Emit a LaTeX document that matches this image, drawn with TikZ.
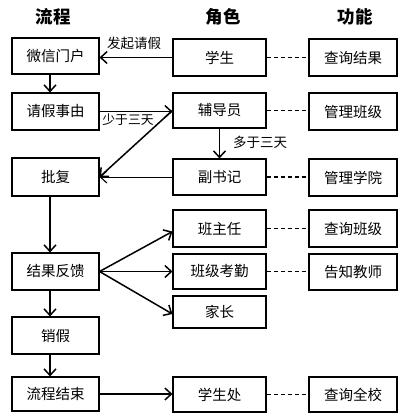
\documentclass[tikz,border=0pt]{standalone}
\usepackage{fontspec}
\newfontfamily\cjk{Noto Sans CJK SC}
\usetikzlibrary{arrows.meta}
\begin{document}
\begin{tikzpicture}[x=1pt,y=-1pt,
  box/.style={draw,line width=1.1pt,inner sep=0pt,font=\cjk\fontsize{14.5}{16}\selectfont},
  lbox/.style={box,minimum width=87pt},
  mbox/.style={box,minimum width=93pt},
  rbox/.style={box,minimum width=88pt},
  hdr/.style={font=\cjk\bfseries\fontsize{17.5}{19}\selectfont},
  lbl/.style={font=\cjk\fontsize{13.5}{15}\selectfont,inner sep=0pt},
  arr/.style={line width=1.5pt,-{Straight Barb[length=6.5pt,width=12pt,line width=1.5pt]}},
  dsh/.style={line width=1.8pt,dash pattern=on 4.5pt off 2.5pt}]
\useasboundingbox (0,0) rectangle (409,420);
% headers
\node[hdr] (h1) at (53,17) {流程};
\node[hdr] (h2) at (223,17) {角色};
\node[hdr] (h3) at (355,17) {功能};
% left column
\node[lbox,minimum height=36pt] (wx) at (55.5,56) {微信门户};
\node[lbox,minimum height=37pt] (qj) at (55.5,111.5) {请假事由};
\node[lbox,minimum height=38pt] (pf) at (55.5,177) {批复};
\node[lbox,minimum height=37pt] (jg) at (55.5,271.5) {结果反馈};
\node[lbox,minimum height=37pt] (xj) at (55.5,335.5) {销假};
\node[lbox,minimum height=34pt] (js) at (55.5,394) {流程结束};
% middle column
\node[mbox,minimum height=37pt] (xs) at (219.5,57.5) {学生};
\node[mbox,minimum height=35pt] (fd) at (219.5,110.5) {辅导员};
\node[mbox,minimum height=36pt] (fs) at (219.5,177) {副书记};
\node[mbox,minimum height=37pt] (bz) at (219.5,228.5) {班主任};
\node[mbox,minimum height=35pt] (kq) at (219.5,271.5) {班级考勤};
\node[mbox,minimum height=32pt] (jz) at (219.5,312) {家长};
\node[mbox,minimum height=35pt] (xc) at (219.5,394.5) {学生处};
% right column
\node[rbox,minimum height=37pt] (r1) at (353,57.5) {查询结果};
\node[rbox,minimum height=37pt] (r2) at (353,111.5) {管理班级};
\node[rbox,minimum height=37pt] (r3) at (353,177.5) {管理学院};
\node[rbox,minimum height=37pt] (r4) at (353,228.5) {查询班级};
\node[rbox,minimum height=36pt] (r5) at (353,272) {告知教师};
\node[rbox,minimum height=35pt] (r6) at (353,394.5) {查询全校};
% dashed links
\draw[dsh] (xs.east) -- (xs.east -| r1.west);
\draw[dsh] (fd.east) -- (fd.east -| r2.west);
\draw[dsh] (fs.east) -- (fs.east -| r3.west);
\draw[dsh] (bz.east) -- (bz.east -| r4.west);
\draw[dsh] (kq.east) -- (kq.east -| r5.west);
\draw[dsh] (xc.east) -- (xc.east -| r6.west);
% flow arrows
\draw[arr] (xs.west) -- (xs.west -| wx.east);
\node[lbl] (l1) at (134,43) {发起请假};
\draw[arr] ([xshift=-5.5pt]wx.south) -- ([xshift=-5.5pt]qj.north);
\draw[arr] (qj.east) -- (qj.east -| fd.west);
\node[lbl,font=\cjk\fontsize{12.8}{14}\selectfont] (l2) at (128,120) {少于三天};
\draw[arr] (fd.west) -- (pf.east);
\draw[arr] (fd.south) -- (fs.north);
\node[lbl] (l3) at (260,142) {多于三天};
\draw[line width=1pt,-{Straight Barb[length=6.5pt,width=12pt,line width=1.1pt]}] (fs.west) -- (fs.west -| pf.east);
\draw[arr] ([xshift=-5.5pt]pf.south) -- ([xshift=-5.5pt]jg.north);
\draw[arr] (jg.east) -- ([yshift=-3pt]bz.west);
\draw[arr] (jg.east) -- (kq.west);
\draw[arr] (jg.east) -- ([yshift=-2pt]jz.west);
\draw[arr] ([xshift=-5.5pt]jg.south) -- ([xshift=-5.5pt]xj.north);
\draw[arr] ([xshift=-5.5pt]xj.south) -- ([xshift=-5.5pt]js.north);
\draw[arr] (js.east) -- (js.east -| xc.west);
\end{tikzpicture}
\end{document}
